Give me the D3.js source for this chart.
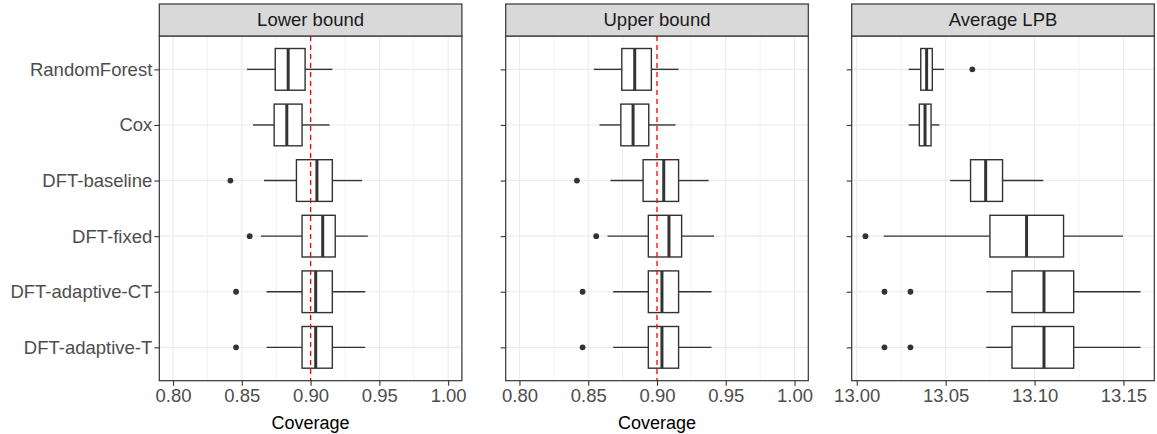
<!DOCTYPE html>
<html><head><meta charset="utf-8">
<script src="https://cdn.jsdelivr.net/npm/d3@7"></script>
<style>body{margin:0;background:#fff}svg{display:block}text{font-family:"Liberation Sans",Arial,sans-serif}</style>
</head><body>
<svg id="chart" width="1157" height="434"></svg>
<script>
const categories = ["RandomForest","Cox","DFT-baseline","DFT-fixed","DFT-adaptive-CT","DFT-adaptive-T"];
const panelTitles = ["Lower bound","Upper bound","Average LPB"];
const coverageTicks = [0.80,0.85,0.90,0.95,1.00];
const lpbTicks = [13.00,13.05,13.10,13.15];
const targetCoverage = 0.90;

// Lower bound
const lbWhiskerLo = [0.8538,0.8581,0.8661,0.8639,0.8680,0.8680];
const lbQ1        = [0.8743,0.8735,0.8897,0.8938,0.8938,0.8938];
const lbMedian    = [0.8837,0.8827,0.9046,0.9088,0.9037,0.9037];
const lbQ3        = [0.8960,0.8938,0.9158,0.9179,0.9158,0.9158];
const lbWhiskerHi = [0.9158,0.9138,0.9375,0.9416,0.9397,0.9397];
const lbOutliers  = [[],[],[0.8417],[0.8557],[0.8458],[0.8458]];

// Upper bound
const ubWhiskerLo = [0.8541,0.8582,0.8662,0.8640,0.8681,0.8681];
const ubQ1        = [0.8744,0.8737,0.8899,0.8937,0.8937,0.8937];
const ubMedian    = [0.8838,0.8826,0.9049,0.9087,0.9036,0.9036];
const ubQ3        = [0.8959,0.8940,0.9157,0.9179,0.9157,0.9157];
const ubWhiskerHi = [0.9157,0.9135,0.9375,0.9415,0.9396,0.9396];
const ubOutliers  = [[],[],[0.8418],[0.8558],[0.8459],[0.8459]];

// Average LPB
const lpbWhiskerLo = [13.0292,13.0292,13.0525,13.0152,13.0729,13.0729];
const lpbQ1        = [13.0360,13.0352,13.0640,13.0749,13.0873,13.0873];
const lpbMedian    = [13.0393,13.0384,13.0725,13.0955,13.1053,13.1053];
const lpbQ3        = [13.0425,13.0418,13.0820,13.1163,13.1220,13.1220];
const lpbWhiskerHi = [13.0491,13.0465,13.1049,13.1497,13.1596,13.1596];
const lpbOutliers  = [[13.0650],[],[],[13.0049],[13.0156,13.0302],[13.0156,13.0302]];

function build(lo,q1,med,q3,hi,out){
  return categories.map((c,i)=>({cat:c,lo:lo[i],q1:q1[i],med:med[i],q3:q3[i],hi:hi[i],out:out[i]}));
}
const panelData = [
  build(lbWhiskerLo,lbQ1,lbMedian,lbQ3,lbWhiskerHi,lbOutliers),
  build(ubWhiskerLo,ubQ1,ubMedian,ubQ3,ubWhiskerHi,ubOutliers),
  build(lpbWhiskerLo,lpbQ1,lpbMedian,lpbQ3,lpbWhiskerHi,lpbOutliers)
];

const svg = d3.select("#chart");
const panelLeft = [159.3, 505.7, 851.7];
const panelW = 302.6;
const stripTop = 4, stripH = 32, plotTop = 36, plotBottom = 380.7;
const dark = "#333333";

const y = d3.scalePoint().domain(categories).range([plotTop, plotBottom]).padding(0.6);
const boxH = y.step()*0.75;

function expandDomain(lo, hi){ const r = hi-lo; return [lo-0.05*r, hi+0.05*r]; }

panelData.forEach((data,p)=>{
  const x0 = panelLeft[p], x1 = x0+panelW;
  let domain, ticks;
  if (p<2){ domain = expandDomain(0.80,1.00); ticks = coverageTicks; }
  else {
    const allV = data.flatMap(d=>[d.lo,d.hi,...d.out]);
    domain = expandDomain(d3.min(allV), d3.max(allV)); ticks = lpbTicks;
  }
  const x = d3.scaleLinear().domain(domain).range([x0,x1]);
  const g = svg.append("g");
  // minor grid
  const step = ticks[1]-ticks[0];
  const minors = [];
  for (let t=ticks[0]-step/2; t<=domain[1]; t+=step){ if (t>=domain[0]) minors.push(t); }
  g.selectAll(".minor").data(minors).join("line")
    .attr("x1",d=>x(d)).attr("x2",d=>x(d)).attr("y1",plotTop).attr("y2",plotBottom)
    .attr("stroke","#EBEBEB").attr("stroke-width",0.6);
  g.selectAll(".majx").data(ticks).join("line")
    .attr("x1",d=>x(d)).attr("x2",d=>x(d)).attr("y1",plotTop).attr("y2",plotBottom)
    .attr("stroke","#EBEBEB").attr("stroke-width",1.1);
  g.selectAll(".majy").data(categories).join("line")
    .attr("x1",x0).attr("x2",x1).attr("y1",d=>y(d)).attr("y2",d=>y(d))
    .attr("stroke","#EBEBEB").attr("stroke-width",1.1);

  // boxes
  const b = g.selectAll(".box").data(data).join("g");
  b.append("line").attr("x1",d=>x(d.lo)).attr("x2",d=>x(d.q1)).attr("y1",d=>y(d.cat)).attr("y2",d=>y(d.cat))
    .attr("stroke",dark).attr("stroke-width",1.4);
  b.append("line").attr("x1",d=>x(d.q3)).attr("x2",d=>x(d.hi)).attr("y1",d=>y(d.cat)).attr("y2",d=>y(d.cat))
    .attr("stroke",dark).attr("stroke-width",1.4);
  b.append("rect").attr("x",d=>x(d.q1)).attr("width",d=>x(d.q3)-x(d.q1))
    .attr("y",d=>y(d.cat)-boxH/2).attr("height",boxH)
    .attr("fill","#fff").attr("stroke",dark).attr("stroke-width",1.4);
  b.append("line").attr("x1",d=>x(d.med)).attr("x2",d=>x(d.med))
    .attr("y1",d=>y(d.cat)-boxH/2).attr("y2",d=>y(d.cat)+boxH/2)
    .attr("stroke",dark).attr("stroke-width",3);
  b.selectAll("circle").data(d=>d.out.map(v=>({v,cat:d.cat}))).join("circle")
    .attr("cx",d=>x(d.v)).attr("cy",d=>y(d.cat)).attr("r",2.9).attr("fill",dark);

  if (p<2){
    g.append("line").attr("x1",x(targetCoverage)).attr("x2",x(targetCoverage))
      .attr("y1",plotTop).attr("y2",plotBottom)
      .attr("stroke","#FF0000").attr("stroke-width",1.3).attr("stroke-dasharray","5,4");
  }
  // panel border
  g.append("rect").attr("x",x0).attr("y",plotTop).attr("width",panelW).attr("height",plotBottom-plotTop)
    .attr("fill","none").attr("stroke",dark).attr("stroke-width",1.2);
  // strip
  g.append("rect").attr("x",x0).attr("y",stripTop).attr("width",panelW).attr("height",stripH)
    .attr("fill","#D9D9D9").attr("stroke",dark).attr("stroke-width",1.2);
  g.append("text").attr("x",(x0+x1)/2).attr("y",stripTop+stripH/2).attr("dy","0.35em")
    .attr("text-anchor","middle").attr("font-size",18.5).attr("fill","#1A1A1A").text(panelTitles[p]);

  // x axis
  const xa = d3.axisBottom(x).tickValues(ticks).tickSize(5).tickPadding(4)
    .tickFormat(d3.format(p<2?".2f":".2f"));
  const ax = g.append("g").attr("transform",`translate(0,${plotBottom})`).call(xa);
  ax.select(".domain").remove();
  ax.selectAll(".tick line").attr("stroke",dark).attr("stroke-width",1.1);
  ax.selectAll(".tick text").attr("font-size",18.5).attr("fill","#4D4D4D")
    .attr("font-family","'Liberation Sans',Arial,sans-serif").attr("y",null).attr("dy",null)
    .attr("transform","translate(0,21)");
  // y axis
  const ya = d3.axisLeft(y).tickSize(5).tickPadding(2).tickFormat(p===0?(d=>d):(()=>""));
  const ay = g.append("g").attr("transform",`translate(${x0},0)`).call(ya);
  ay.select(".domain").remove();
  ay.selectAll(".tick line").attr("stroke",dark).attr("stroke-width",1.1);
  ay.selectAll(".tick text").attr("font-size",18.5).attr("fill","#4D4D4D")
    .attr("font-family","'Liberation Sans',Arial,sans-serif");

  if (p<2){
    g.append("text").attr("x",(x0+x1)/2).attr("y",428.5).attr("text-anchor","middle")
      .attr("font-size",18).attr("fill","#000").text("Coverage");
  }
});
</script>
</body></html>
